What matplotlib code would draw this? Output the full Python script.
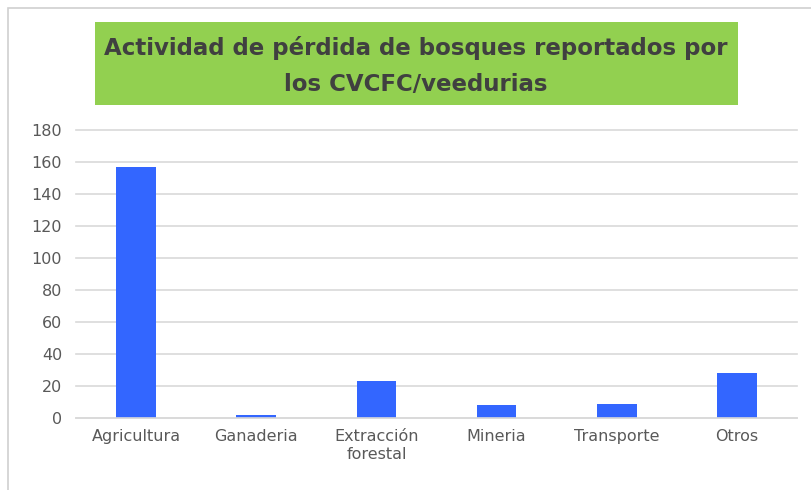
import matplotlib.pyplot as plt
from matplotlib.patches import Rectangle

# data
categorias = ['Agricultura', 'Ganaderia', 'Extracción\nforestal', 'Mineria', 'Transporte', 'Otros']
valores = [157, 2, 23, 8, 9, 28]
yticks = [0, 20, 40, 60, 80, 100, 120, 140, 160, 180]
titulo = 'Actividad de pérdida de bosques reportados por\nlos CVCFC/veedurias'

fig = plt.figure(figsize=(8.11, 4.9), dpi=100)

# light border of the chart area
fig.patches.append(Rectangle((8/811, -0.1), 1.2, 1 - 8/490 + 0.1, transform=fig.transFigure,
                             fill=False, edgecolor='#d0d0d0', linewidth=1.2))

# green title box
fig.patches.append(Rectangle((95/811, 1 - 105/490), 643/811, 83/490, transform=fig.transFigure,
                             facecolor='#92D050', edgecolor='none'))
fig.text(416/811, 1 - 66/490, titulo, ha='center', va='center', fontsize=16.5,
         fontweight='bold', color='#404040', linespacing=1.75)

ax = fig.add_axes([76/811, 1 - 418/490, 721/811, 288/490])
ax.bar(range(len(categorias)), valores, width=0.33, color='#3366FF')
ax.set_xlim(-0.5, len(categorias) - 0.5)
ax.set_ylim(0, 180)
ax.set_yticks(yticks)
ax.set_xticks(range(len(categorias)))
ax.set_xticklabels(categorias, fontsize=11.5, color='#595959')
ax.tick_params(axis='y', labelsize=11.5, labelcolor='#595959', length=0, pad=10)
ax.tick_params(axis='x', length=0, pad=8)
ax.grid(axis='y', color='#d9d9d9', linewidth=1.2)
for gl in ax.get_ygridlines():
    gl.set_clip_on(False)
ax.set_axisbelow(True)
for s in ['top', 'right', 'left']:
    ax.spines[s].set_visible(False)
ax.spines['bottom'].set_color('#d9d9d9')
ax.spines['bottom'].set_linewidth(1.2)

fig.savefig('out.png', dpi=100)
